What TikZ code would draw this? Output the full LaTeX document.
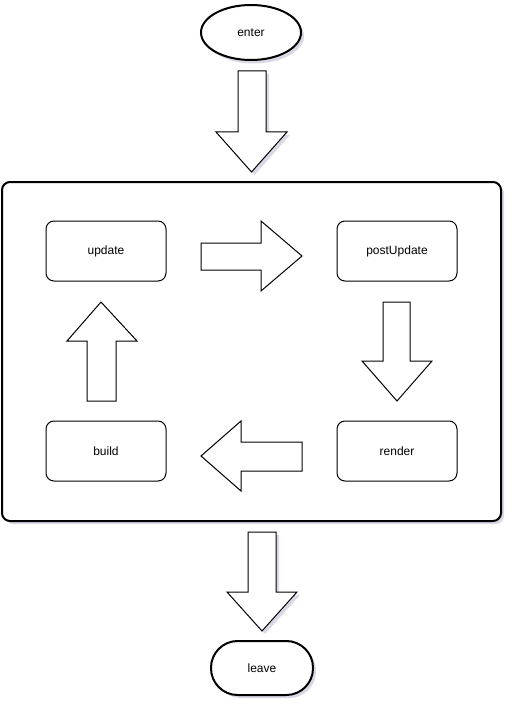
\documentclass[tikz,border=0pt]{standalone}
\usepackage{fontspec}
\setmainfont{Liberation Sans}
\definecolor{shadowc}{RGB}{190,192,210}
\begin{document}
\begin{tikzpicture}[x=0.75pt,y=-0.75pt,
  lbl/.style={font=\fontsize{9}{11}\selectfont},
  thick box/.style={draw=black,line width=1.5pt,fill=white},
  stepbox/.style={draw=black,line width=0.75pt,fill=white,rounded corners=6pt},
  blockarrow/.style={draw=black,line width=0.75pt,fill=white,line join=miter},
  shad/.style={fill=shadowc,draw=none,opacity=0.6}]
\useasboundingbox (0,0) rectangle (513,713);
% shadows
\fill[shad] (254,36) ellipse [x radius=50, y radius=27.5];
\fill[shad,rounded corners=6pt] (5,185) rectangle (504,524);
\fill[shad,rounded corners=20pt] (214,644) rectangle (316,698);
\fill[shad] (241,74) -- (269,74) -- (269,135) -- (290,135) -- (254.5,175) -- (219,135) -- (241,135) -- cycle;
\fill[shad] (251,535) -- (279,535) -- (279,595) -- (300,595) -- (265,634) -- (230,595) -- (251,595) -- cycle;
% enter
\draw[thick box] (251,32.5) ellipse [x radius=50, y radius=27.5];
\node[lbl] (enter) at (251,32.5) {enter};
% enter arrow
\draw[blockarrow] (238,71) -- (266,71) -- (266,132) -- (287,132) -- (251.5,172) -- (216,132) -- (238,132) -- cycle;
% container
\draw[thick box,rounded corners=6pt] (2,182) rectangle (501,521);
\coordinate (container) at (251.5,351.5);
% boxes
\draw[stepbox] (46,221) rectangle (166,281);
\node[lbl] (update) at (106,251) {update};
\draw[stepbox] (337,221) rectangle (457,281);
\node[lbl] (postupdate) at (397,251) {postUpdate};
\draw[stepbox] (337,421) rectangle (457,481);
\node[lbl] (render) at (397,451) {render};
\draw[stepbox] (46,421) rectangle (166,481);
\node[lbl] (build) at (106,451) {build};
% inner block arrows
\draw[blockarrow] (201,243) -- (261,243) -- (261,221) -- (302,256) -- (261,291) -- (261,270) -- (201,270) -- cycle;
\draw[blockarrow] (383,302) -- (410,302) -- (410,361) -- (432,361) -- (397,401) -- (362,361) -- (383,361) -- cycle;
\draw[blockarrow] (302,442) -- (241,442) -- (241,421) -- (201,456) -- (241,491) -- (241,471) -- (302,471) -- cycle;
\draw[blockarrow] (87,401) -- (87,341) -- (67,341) -- (101,302) -- (137,341) -- (116,341) -- (116,401) -- cycle;
% leave arrow
\draw[blockarrow] (248,532) -- (276,532) -- (276,592) -- (297,592) -- (262,631) -- (227,592) -- (248,592) -- cycle;
% leave
\draw[thick box,rounded corners=20pt] (211,641) rectangle (313,695);
\node[lbl] (leave) at (262,668) {leave};
\end{tikzpicture}
\end{document}
